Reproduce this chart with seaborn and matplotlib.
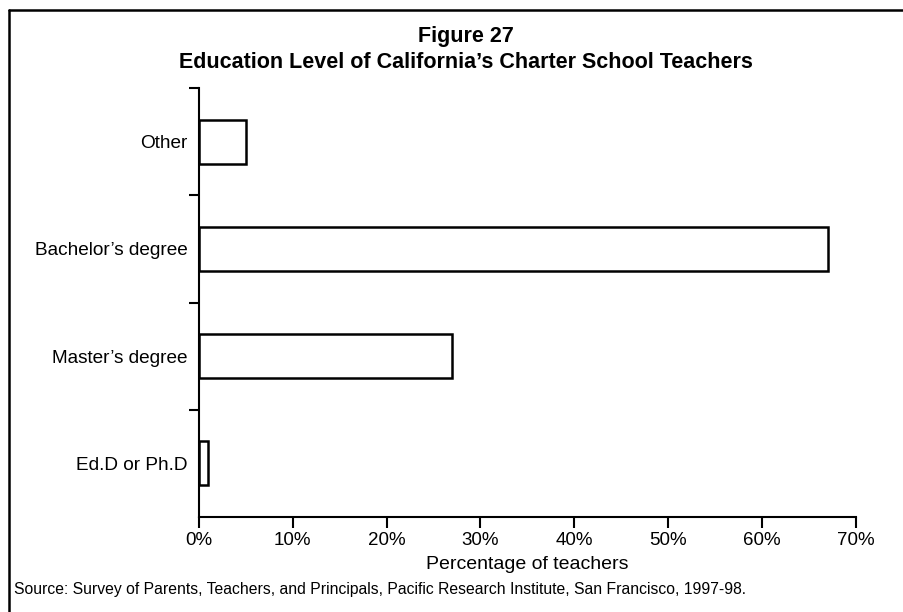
import pandas as pd
import numpy as np
import seaborn as sns
import matplotlib.pyplot as plt
from matplotlib.lines import Line2D

# chart data
categories = ['Other', 'Bachelor’s degree', 'Master’s degree', 'Ed.D or Ph.D']
percent = [5, 67, 27, 1]
x_ticks = [0, 10, 20, 30, 40, 50, 60, 70]
x_tick_labels = [f"{t}%" for t in x_ticks]

df = pd.DataFrame({'level': categories, 'pct': percent})

sns.set_style('ticks')
plt.rcParams['font.family'] = ['Liberation Sans', 'DejaVu Sans']
plt.rcParams['text.color'] = 'black'
plt.rcParams['axes.labelcolor'] = 'black'
plt.rcParams['xtick.color'] = 'black'
plt.rcParams['ytick.color'] = 'black'

fig = plt.figure(figsize=(9.04, 6.12), dpi=100)
ax = fig.add_axes([0.2201, 0.1552, 0.7265, 0.7010])

sns.barplot(data=df, x='pct', y='level', order=categories, orient='h',
            color='white', edgecolor='black', linewidth=1.8, width=0.41, ax=ax)

ax.set_xlim(0, 70)
ax.set_ylim(3.5, -0.5)
ax.set_xticks(x_ticks)
ax.set_xticklabels(x_tick_labels, fontsize=13.5)
ax.tick_params(axis='x', direction='out', length=8, width=1.5, pad=3)

# category labels without ticks, tick marks between categories
ax.tick_params(axis='y', which='major', length=0, pad=8, labelsize=13.7)
ax.set_yticks(np.arange(len(categories)) - 0.5, minor=True)
ax.tick_params(axis='y', which='minor', direction='out', length=7, width=1.5)

ax.set_xlabel('Percentage of teachers', fontsize=14, labelpad=5)
ax.set_ylabel('')

for side in ['top', 'right']:
    ax.spines[side].set_visible(False)
for side in ['left', 'bottom']:
    ax.spines[side].set_linewidth(1.5)
    ax.spines[side].set_color('black')

# titles
fig.text(0.5155, 0.941, 'Figure 27', ha='center', va='center',
         fontsize=15.5, fontweight='bold')
fig.text(0.5155, 0.898, 'Education Level of California’s Charter School Teachers',
         ha='center', va='center', fontsize=15.5, fontweight='bold')

# source note
fig.text(0.016, 0.036, 'Source: Survey of Parents, Teachers, and Principals, Pacific Research '
         'Institute, San Francisco, 1997-98.', ha='left', va='center', fontsize=11.3)

# frame around the figure (top and left edges visible)
fig.add_artist(Line2D([0.010, 1.0], [0.9837, 0.9837], color='black', linewidth=1.8))
fig.add_artist(Line2D([0.010, 0.010], [0.0, 0.9837], color='black', linewidth=1.8))

plt.savefig('out.png', dpi=100)
